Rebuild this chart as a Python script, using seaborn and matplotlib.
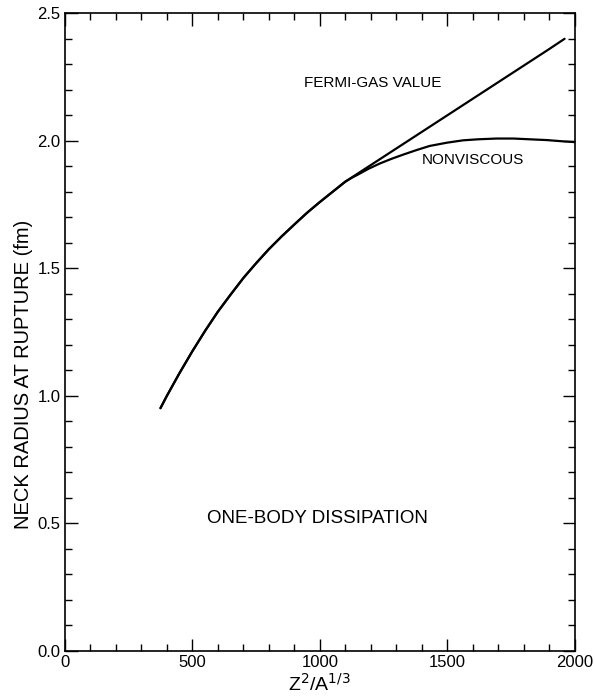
import numpy as np
import pandas as pd
import seaborn as sns
import matplotlib
matplotlib.use("Agg")
import matplotlib.pyplot as plt
from matplotlib.ticker import MultipleLocator

# ---- data ----
fermi_x = [375, 400, 450, 500, 550, 600, 650, 700, 750, 800, 850, 900, 950, 1000,
           1050, 1100, 1200, 1300, 1400, 1500, 1600, 1700, 1800, 1900, 1960]
fermi_y = [0.952, 1.00, 1.09, 1.175, 1.255, 1.33, 1.397, 1.462, 1.52, 1.575, 1.625,
           1.672, 1.718, 1.76, 1.80, 1.84, 1.905, 1.970, 2.035, 2.100, 2.165,
           2.230, 2.295, 2.360, 2.40]

nonvisc_x = [375, 400, 450, 500, 550, 600, 650, 700, 750, 800, 850, 900, 950, 1000,
             1050, 1100, 1125, 1150, 1190, 1235, 1280, 1327, 1380, 1431, 1500, 1562,
             1620, 1693, 1760, 1824, 1890, 1954, 2000]
nonvisc_y = [0.952, 1.00, 1.09, 1.175, 1.255, 1.33, 1.397, 1.462, 1.52, 1.575, 1.625,
             1.672, 1.718, 1.76, 1.80, 1.84, 1.855, 1.868, 1.890, 1.911, 1.929, 1.946,
             1.964, 1.980, 1.993, 2.002, 2.006, 2.009, 2.009, 2.006, 2.003, 1.998, 1.995]

x_ticks = [0, 500, 1000, 1500, 2000]
y_ticks = [0.0, 0.5, 1.0, 1.5, 2.0, 2.5]
y_tick_labels = ["0.0", "0.5", "1.0", "1.5", "2.0", "2.5"]

df = pd.concat([
    pd.DataFrame({"x": fermi_x, "y": fermi_y, "series": "FERMI-GAS VALUE"}),
    pd.DataFrame({"x": nonvisc_x, "y": nonvisc_y, "series": "NONVISCOUS"}),
])

sns.set_theme(style="white")
plt.rcParams["font.family"] = ["Liberation Sans", "DejaVu Sans"]
plt.rcParams["text.color"] = "black"
plt.rcParams["axes.labelcolor"] = "black"
plt.rcParams["xtick.color"] = "black"
plt.rcParams["ytick.color"] = "black"

fig = plt.figure(figsize=(5.95, 7.0), dpi=100)
ax = fig.add_axes([0.109, 0.07, 0.857, 0.911])

sns.lineplot(data=df, x="x", y="y", units="series", estimator=None, sort=False,
             color="black", linewidth=1.6, ax=ax, legend=False)

ax.set_xlim(0, 2000)
ax.set_ylim(0, 2.5)
ax.set_xticks(x_ticks)
ax.set_xticklabels([str(t) for t in x_ticks])
ax.set_yticks(y_ticks)
ax.set_yticklabels(y_tick_labels)
ax.xaxis.set_minor_locator(MultipleLocator(100))
ax.yaxis.set_minor_locator(MultipleLocator(0.1))
ax.tick_params(which="both", direction="in", top=True, right=True,
               bottom=True, left=True, color="black", width=1.0)
ax.tick_params(which="major", length=9, labelsize=12, pad=3)
ax.tick_params(which="minor", length=5)
for s in ax.spines.values():
    s.set_color("black")
    s.set_linewidth(1.2)

ax.set_xlabel(r"Z$^2$/A$^{1/3}$", fontsize=14, labelpad=2)
ax.set_ylabel("NECK RADIUS AT RUPTURE (fm)", fontsize=14.5, labelpad=2)
ax.yaxis.set_label_coords(-0.062, 0.434)

ax.text(1208, 2.226, "FERMI-GAS VALUE", ha="center", va="center", fontsize=11)
ax.text(1600, 1.924, "NONVISCOUS", ha="center", va="center", fontsize=11)
ax.text(990, 0.52, "ONE-BODY DISSIPATION", ha="center", va="center", fontsize=13.5)

fig.savefig("out.png", dpi=100)
